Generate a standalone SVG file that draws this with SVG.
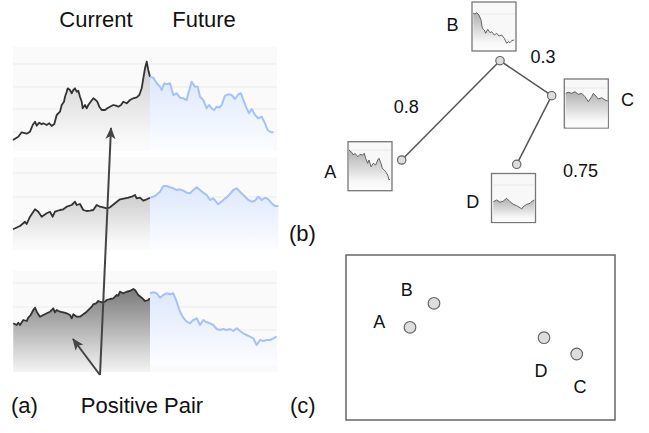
<svg xmlns="http://www.w3.org/2000/svg" width="649" height="433" viewBox="0 0 649 433">
  <defs>
    <linearGradient id="gCur" x1="0" y1="0" x2="0" y2="1">
      <stop offset="0" stop-color="#cdcdcd"/>
      <stop offset="0.85" stop-color="#f8f8f8"/>
      <stop offset="1" stop-color="#fbfbfb"/>
    </linearGradient>
    <linearGradient id="gCurDark" x1="0" y1="0" x2="0" y2="1">
      <stop offset="0" stop-color="#7a7a7a"/>
      <stop offset="1" stop-color="#f4f4f4"/>
    </linearGradient>
    <linearGradient id="gFut" x1="0" y1="0" x2="0" y2="1">
      <stop offset="0" stop-color="#dde8fc"/>
      <stop offset="1" stop-color="#fcfdff"/>
    </linearGradient>
    <linearGradient id="gThumb" x1="0" y1="0" x2="0" y2="1">
      <stop offset="0" stop-color="#b0b0b0"/>
      <stop offset="0.8" stop-color="#f8f8f8"/>
      <stop offset="1" stop-color="#fcfcfc"/>
    </linearGradient>
    <marker id="arrow" viewBox="0 0 12 10" refX="11" refY="5" markerWidth="12" markerHeight="10" markerUnits="userSpaceOnUse" orient="auto">
      <path d="M0,0 L12,5 L0,10 L3,5 Z" fill="#444"/>
    </marker>
    <style>
      .lbl { font-family: "Liberation Sans", Arial, sans-serif; fill: #111; }
      .big { font-size: 22px; }
      .sm { font-size: 18px; }
      .bg { fill: #fafafa; }
      .grid { stroke: #ebebeb; stroke-width: 1; }
      .cur { fill: none; stroke: #333; stroke-width: 1.8; stroke-linejoin: round; }
      .fut { fill: none; stroke: #a6c2f5; stroke-width: 2; stroke-linejoin: round; }
      .tbox { fill: #f8f8f8; stroke: #777; stroke-width: 1.3; }
      .tline { fill: none; stroke: #444; stroke-width: 0.8; }
      .tgrid { stroke: #e4e4e4; stroke-width: 0.8; }
      .dot { fill: #dddddd; stroke: #666; stroke-width: 1.2; }
      .edge { fill: none; stroke: #555; stroke-width: 1.5; }
      .ptr { fill: none; stroke: #444; stroke-width: 2; marker-end: url(#arrow); }
    </style>
  </defs>
  <rect width="649" height="433" fill="#fff"/>

  <!-- (a) column headers -->
  <text class="lbl big" x="96" y="27" text-anchor="middle">Current</text>
  <text class="lbl big" x="204" y="27" text-anchor="middle">Future</text>

  <!-- series 1 -->
  <g id="series1">
    <rect class="bg" x="13" y="47" width="264" height="104"/>
    <line class="grid" x1="13" y1="64" x2="277" y2="64"/>
    <line class="grid" x1="13" y1="87" x2="277" y2="87"/>
    <line class="grid" x1="13" y1="109" x2="277" y2="109"/>
    <line class="grid" x1="13" y1="132" x2="277" y2="132"/>
    <polygon fill="url(#gCur)" points="13,140 18.3,136.7 21.7,132.3 26.7,133.7 30,131.7 32.7,125 35,121.7 36.7,125.7 39.3,122.7 41.7,124.3 43.3,123.3 46.7,125 49.3,123.3 51.7,126 54.3,124 56.7,115 60,111.7 61.7,105 64,101.7 65,96.7 66.7,91.7 67.7,88.3 70,90 71.7,93.3 73.3,90 75,88.3 76.7,91.7 78.3,90.7 80,96.7 81.7,101.7 82.7,108.3 85,105 86.7,108.3 88.3,105 90.7,101.7 93.3,98.3 95.7,100 97.3,101.7 99.3,106.7 101.7,110 105,110 107.3,108.3 110,106.7 113.3,105 116,105.7 118.3,106.7 121,105 123.3,101.7 126.7,103.3 130,100 133.3,98.3 136.7,97.3 139.3,95 141.7,88.3 143.3,78.3 145,68.3 146.7,61.7 148.3,70 150,76.7 150,151 13,151"/>
    <polyline class="cur" points="13,140 18.3,136.7 21.7,132.3 26.7,133.7 30,131.7 32.7,125 35,121.7 36.7,125.7 39.3,122.7 41.7,124.3 43.3,123.3 46.7,125 49.3,123.3 51.7,126 54.3,124 56.7,115 60,111.7 61.7,105 64,101.7 65,96.7 66.7,91.7 67.7,88.3 70,90 71.7,93.3 73.3,90 75,88.3 76.7,91.7 78.3,90.7 80,96.7 81.7,101.7 82.7,108.3 85,105 86.7,108.3 88.3,105 90.7,101.7 93.3,98.3 95.7,100 97.3,101.7 99.3,106.7 101.7,110 105,110 107.3,108.3 110,106.7 113.3,105 116,105.7 118.3,106.7 121,105 123.3,101.7 126.7,103.3 130,100 133.3,98.3 136.7,97.3 139.3,95 141.7,88.3 143.3,78.3 145,68.3 146.7,61.7 148.3,70 150,76.7"/>
    <polygon fill="url(#gFut)" points="150,76.7 153.3,77.7 156.7,83.3 160,86.7 161.7,90 164.3,83.3 166.7,84.3 170,83.3 173.3,95 176.7,93.3 180,97.7 183.3,98.3 186.7,100 188.3,93.3 191.7,81.7 195,86.7 197.7,86.7 200,96.7 203.3,100 206.7,108.3 209,105 211.7,108.3 214.3,110 216.7,106.7 219,107.7 221.7,105 225,95.7 228.3,94.3 231.7,95 235,99 238.3,94.3 241,93.3 243.3,100 246.7,108.3 249,113.3 251.7,109 255,115 258.3,118.3 261.7,116.7 265,123.3 267.7,130 271,132.3 273.3,132.3 273.3,151 150,151"/>
    <polyline class="fut" points="150,76.7 153.3,77.7 156.7,83.3 160,86.7 161.7,90 164.3,83.3 166.7,84.3 170,83.3 173.3,95 176.7,93.3 180,97.7 183.3,98.3 186.7,100 188.3,93.3 191.7,81.7 195,86.7 197.7,86.7 200,96.7 203.3,100 206.7,108.3 209,105 211.7,108.3 214.3,110 216.7,106.7 219,107.7 221.7,105 225,95.7 228.3,94.3 231.7,95 235,99 238.3,94.3 241,93.3 243.3,100 246.7,108.3 249,113.3 251.7,109 255,115 258.3,118.3 261.7,116.7 265,123.3 267.7,130 271,132.3 273.3,132.3"/>
  </g>

  <!-- series 2 -->
  <g id="series2">
    <rect class="bg" x="13" y="157" width="264" height="93"/>
    <line class="grid" x1="13" y1="173" x2="277" y2="173"/>
    <line class="grid" x1="13" y1="197" x2="277" y2="197"/>
    <line class="grid" x1="13" y1="221" x2="277" y2="221"/>
    <line class="grid" x1="13" y1="245" x2="277" y2="245"/>
    <polygon fill="url(#gCur)" points="13,229.3 20,226 25,221.7 26.7,224 30,216.7 35,209.3 38.3,211.7 41.7,216.7 46.7,213.3 50,211.7 52.7,216.7 55,211.7 60,210 63.3,209.3 66.7,206.7 71.7,205 75,201.7 76.7,205 80,204 83.3,210 86.7,211 90,210.7 93.3,210 96.7,205 100,206.7 103.3,207.3 106.7,208.3 110,207.3 115,203.3 120,199.3 125,198.3 128.3,197.7 131.7,196.7 135,195 136.7,198.3 140,197.7 143.3,200.7 146.7,199.3 150,197.7 150,250 13,250"/>
    <polyline class="cur" points="13,229.3 20,226 25,221.7 26.7,224 30,216.7 35,209.3 38.3,211.7 41.7,216.7 46.7,213.3 50,211.7 52.7,216.7 55,211.7 60,210 63.3,209.3 66.7,206.7 71.7,205 75,201.7 76.7,205 80,204 83.3,210 86.7,211 90,210.7 93.3,210 96.7,205 100,206.7 103.3,207.3 106.7,208.3 110,207.3 115,203.3 120,199.3 125,198.3 128.3,197.7 131.7,196.7 135,195 136.7,198.3 140,197.7 143.3,200.7 146.7,199.3 150,197.7"/>
    <polygon fill="url(#gFut)" points="150,197.7 155,196 160,191.7 163.3,186 166.7,186 170,187.3 173.3,188.3 176.7,190 180,189.3 183.3,190.7 186.7,192.7 190,193.3 193.3,190 196.7,187.3 200,190 203.3,192.7 206.7,195 210,200 213.3,198.3 218.3,204.3 223.3,200 226.7,197.3 230,194 233.3,190 236.7,188.3 240,191.7 243.3,195 248.3,200 251.7,201.7 255,200.7 258.3,196.7 261.7,200 265,197.7 268.3,199.3 271.7,203.3 275,206 278.3,206 278.3,250 150,250"/>
    <polyline class="fut" points="150,197.7 155,196 160,191.7 163.3,186 166.7,186 170,187.3 173.3,188.3 176.7,190 180,189.3 183.3,190.7 186.7,192.7 190,193.3 193.3,190 196.7,187.3 200,190 203.3,192.7 206.7,195 210,200 213.3,198.3 218.3,204.3 223.3,200 226.7,197.3 230,194 233.3,190 236.7,188.3 240,191.7 243.3,195 248.3,200 251.7,201.7 255,200.7 258.3,196.7 261.7,200 265,197.7 268.3,199.3 271.7,203.3 275,206 278.3,206"/>
  </g>

  <!-- series 3 -->
  <g id="series3">
    <rect class="bg" x="13" y="271" width="264" height="101"/>
    <line class="grid" x1="13" y1="283" x2="277" y2="283"/>
    <line class="grid" x1="13" y1="307" x2="277" y2="307"/>
    <line class="grid" x1="13" y1="330" x2="277" y2="330"/>
    <line class="grid" x1="13" y1="353" x2="277" y2="353"/>
    <polygon fill="url(#gCurDark)" points="13.3,323.3 16.7,325 18.3,322.7 20,325 23.3,320 26.7,321 28.3,317.7 30.7,315 33.3,310 35,307.7 36.7,311.7 40,316.7 43.3,315 46.7,313.3 50,311.7 51.7,310 53.3,308.3 55,312.3 56.7,310 60,311.7 63.3,312.3 66.7,313.3 70,315 71.7,318.3 73.3,314.3 76.7,316.7 80,316.7 83.3,314.3 86.7,311.7 90,308.3 91.7,306.7 93.3,304.3 96,303.3 98.3,301 101.7,302.3 105,301.7 106.7,300 110,299 113.3,298.3 116.7,295 118.3,295.7 120,291.7 123.3,293.3 126.7,291.7 130,291 133.3,289 135,290 138.3,295 141.7,297.7 145,301 148.3,300 150,298.3 150,372 13.3,372"/>
    <polyline class="cur" points="13.3,323.3 16.7,325 18.3,322.7 20,325 23.3,320 26.7,321 28.3,317.7 30.7,315 33.3,310 35,307.7 36.7,311.7 40,316.7 43.3,315 46.7,313.3 50,311.7 51.7,310 53.3,308.3 55,312.3 56.7,310 60,311.7 63.3,312.3 66.7,313.3 70,315 71.7,318.3 73.3,314.3 76.7,316.7 80,316.7 83.3,314.3 86.7,311.7 90,308.3 91.7,306.7 93.3,304.3 96,303.3 98.3,301 101.7,302.3 105,301.7 106.7,300 110,299 113.3,298.3 116.7,295 118.3,295.7 120,291.7 123.3,293.3 126.7,291.7 130,291 133.3,289 135,290 138.3,295 141.7,297.7 145,301 148.3,300 150,298.3"/>
    <polygon fill="url(#gFut)" points="150,293.3 153.3,292.3 156.7,293.3 160,297.7 163.3,295 166.7,293.3 170,294.3 173.3,293.3 176.7,301.7 180,311.7 183.3,317.7 186.7,321.7 190,323.3 193.3,320 196.7,318.3 200,325 203.3,320 206.7,322.3 210,323.3 213.3,325 216.7,329 220,330 223.3,329 226.7,330 230,329 233.3,331 236.7,328.3 240,331 243.3,333.3 246.7,335 250,336.7 253.3,338.3 256.7,345 260,340 263.3,341 266.7,340 270,340 273.3,338.3 276.7,336.7 276.7,365 150,365"/>
    <polyline class="fut" points="150,293.3 153.3,292.3 156.7,293.3 160,297.7 163.3,295 166.7,293.3 170,294.3 173.3,293.3 176.7,301.7 180,311.7 183.3,317.7 186.7,321.7 190,323.3 193.3,320 196.7,318.3 200,325 203.3,320 206.7,322.3 210,323.3 213.3,325 216.7,329 220,330 223.3,329 226.7,330 230,329 233.3,331 236.7,328.3 240,331 243.3,333.3 246.7,335 250,336.7 253.3,338.3 256.7,345 260,340 263.3,341 266.7,340 270,340 273.3,338.3 276.7,336.7"/>
  </g>

  <!-- positive pair pointers -->
  <g id="pointers">
    <line class="ptr" x1="100" y1="375" x2="111" y2="128"/>
    <line class="ptr" x1="100" y1="375" x2="73" y2="339"/>
  </g>
  <text class="lbl big" x="142" y="413" text-anchor="middle">Positive Pair</text>
  <text class="lbl big" x="11" y="413">(a)</text>
  <text class="lbl big" x="289" y="241">(b)</text>
  <text class="lbl big" x="290" y="413">(c)</text>

  <!-- (b) tree connectors -->
  <g id="edges">
    <line class="edge" x1="500" y1="60.7" x2="401.7" y2="160"/>
    <line class="edge" x1="500" y1="60.7" x2="551.7" y2="95.7"/>
    <line class="edge" x1="551.7" y1="95.7" x2="516.7" y2="164.3"/>
  </g>
  <g id="edge-labels">
    <text class="lbl sm" x="543" y="62.7" text-anchor="middle">0.3</text>
    <text class="lbl sm" x="406.3" y="113.3" text-anchor="middle">0.8</text>
    <text class="lbl sm" x="580.5" y="176.7" text-anchor="middle">0.75</text>
  </g>

  <!-- (b) tree nodes -->
  <g id="tree-B">
    <rect class="tbox" x="472" y="2" width="44" height="49"/>
    <line class="tgrid" x1="473" y1="14" x2="515" y2="14"/>
    <line class="tgrid" x1="473" y1="40" x2="515" y2="40"/>
    <polygon fill="url(#gThumb)" points="473.3,13.3 475,14 476.7,12.7 479,15 481,20 482.3,28.3 484.3,30 485.7,33.3 487.7,29.3 490,32.7 491.7,31.7 494.3,35 496.7,33.3 499,36 501.7,35 504.3,38.3 506.7,43.3 508.3,41.7 510,42.7 511.7,40.7 514,40 514,50 473.3,50"/>
    <polyline class="tline" points="473.3,13.3 475,14 476.7,12.7 479,15 481,20 482.3,28.3 484.3,30 485.7,33.3 487.7,29.3 490,32.7 491.7,31.7 494.3,35 496.7,33.3 499,36 501.7,35 504.3,38.3 506.7,43.3 508.3,41.7 510,42.7 511.7,40.7 514,40"/>
    <circle class="dot" cx="500" cy="60.7" r="4.2"/>
    <text class="lbl sm" x="452.5" y="31" text-anchor="middle">B</text>
  </g>
  <g id="tree-C">
    <rect class="tbox" x="564.3" y="79" width="44" height="49"/>
    <line class="tgrid" x1="565" y1="88" x2="607.5" y2="88"/>
    <line class="tgrid" x1="565" y1="118" x2="607.5" y2="118"/>
    <polygon fill="url(#gThumb)" points="565.7,93.3 568.3,92.3 571.7,93.3 575,91.7 578.3,94.3 581.7,93.3 585,96.7 588.3,101.7 591.7,96.7 593.3,93.3 595,95 598.3,99 601.7,97.7 605,100 607.7,101 607.7,127.5 565.7,127.5"/>
    <polyline class="tline" points="565.7,93.3 568.3,92.3 571.7,93.3 575,91.7 578.3,94.3 581.7,93.3 585,96.7 588.3,101.7 591.7,96.7 593.3,93.3 595,95 598.3,99 601.7,97.7 605,100 607.7,101"/>
    <circle class="dot" cx="551.7" cy="95.7" r="4.2"/>
    <text class="lbl sm" x="627.5" y="106" text-anchor="middle">C</text>
  </g>
  <g id="tree-A">
    <rect class="tbox" x="348" y="141.7" width="44" height="49"/>
    <line class="tgrid" x1="349" y1="150" x2="391" y2="150"/>
    <line class="tgrid" x1="349" y1="180" x2="391" y2="180"/>
    <polygon fill="url(#gThumb)" points="349,150 351.7,152.3 353.3,155 355,153.3 357.7,156.7 360,154.3 362.3,155 364.3,153.3 365.7,158.3 367.7,163.3 369,160 371,166.7 373.3,163.3 375.7,165 377.7,160 379,158.3 381,163.3 382.3,168.3 384.3,170 385.7,171.7 387.7,175 389,180 390,179 390,190 349,190"/>
    <polyline class="tline" points="349,150 351.7,152.3 353.3,155 355,153.3 357.7,156.7 360,154.3 362.3,155 364.3,153.3 365.7,158.3 367.7,163.3 369,160 371,166.7 373.3,163.3 375.7,165 377.7,160 379,158.3 381,163.3 382.3,168.3 384.3,170 385.7,171.7 387.7,175 389,180 390,179"/>
    <circle class="dot" cx="401.7" cy="160" r="4.2"/>
    <text class="lbl sm" x="330.3" y="178.3" text-anchor="middle">A</text>
  </g>
  <g id="tree-D">
    <rect class="tbox" x="491.5" y="173.5" width="44" height="49"/>
    <line class="tgrid" x1="492.5" y1="185" x2="534.5" y2="185"/>
    <line class="tgrid" x1="492.5" y1="213" x2="534.5" y2="213"/>
    <polygon fill="url(#gThumb)" points="493.3,201.7 496.7,200 500,202.3 503.3,201 506.7,198.3 510,201.7 513.3,204.3 516.7,205.7 520,207.7 521.7,209 523.3,206.7 526.7,204.3 530,203.3 532.3,201 534.3,200 534.3,222 493.3,222"/>
    <polyline class="tline" points="493.3,201.7 496.7,200 500,202.3 503.3,201 506.7,198.3 510,201.7 513.3,204.3 516.7,205.7 520,207.7 521.7,209 523.3,206.7 526.7,204.3 530,203.3 532.3,201 534.3,200"/>
    <circle class="dot" cx="516.7" cy="164.3" r="4.2"/>
    <text class="lbl sm" x="472.8" y="207.7" text-anchor="middle">D</text>
  </g>

  <!-- (c) embedding space -->
  <rect x="346" y="255" width="269" height="165" fill="#fff" stroke="#666" stroke-width="1.5"/>
  <g id="emb-A">
    <circle class="dot" cx="410" cy="327.3" r="5.8"/>
    <text class="lbl sm" x="379.3" y="328.3" text-anchor="middle">A</text>
  </g>
  <g id="emb-B">
    <circle class="dot" cx="434" cy="303.3" r="5.8"/>
    <text class="lbl sm" x="406.7" y="296" text-anchor="middle">B</text>
  </g>
  <g id="emb-C">
    <circle class="dot" cx="576.7" cy="354" r="5.8"/>
    <text class="lbl sm" x="580" y="392.7" text-anchor="middle">C</text>
  </g>
  <g id="emb-D">
    <circle class="dot" cx="544" cy="337.7" r="5.8"/>
    <text class="lbl sm" x="541" y="376.7" text-anchor="middle">D</text>
  </g>
</svg>
